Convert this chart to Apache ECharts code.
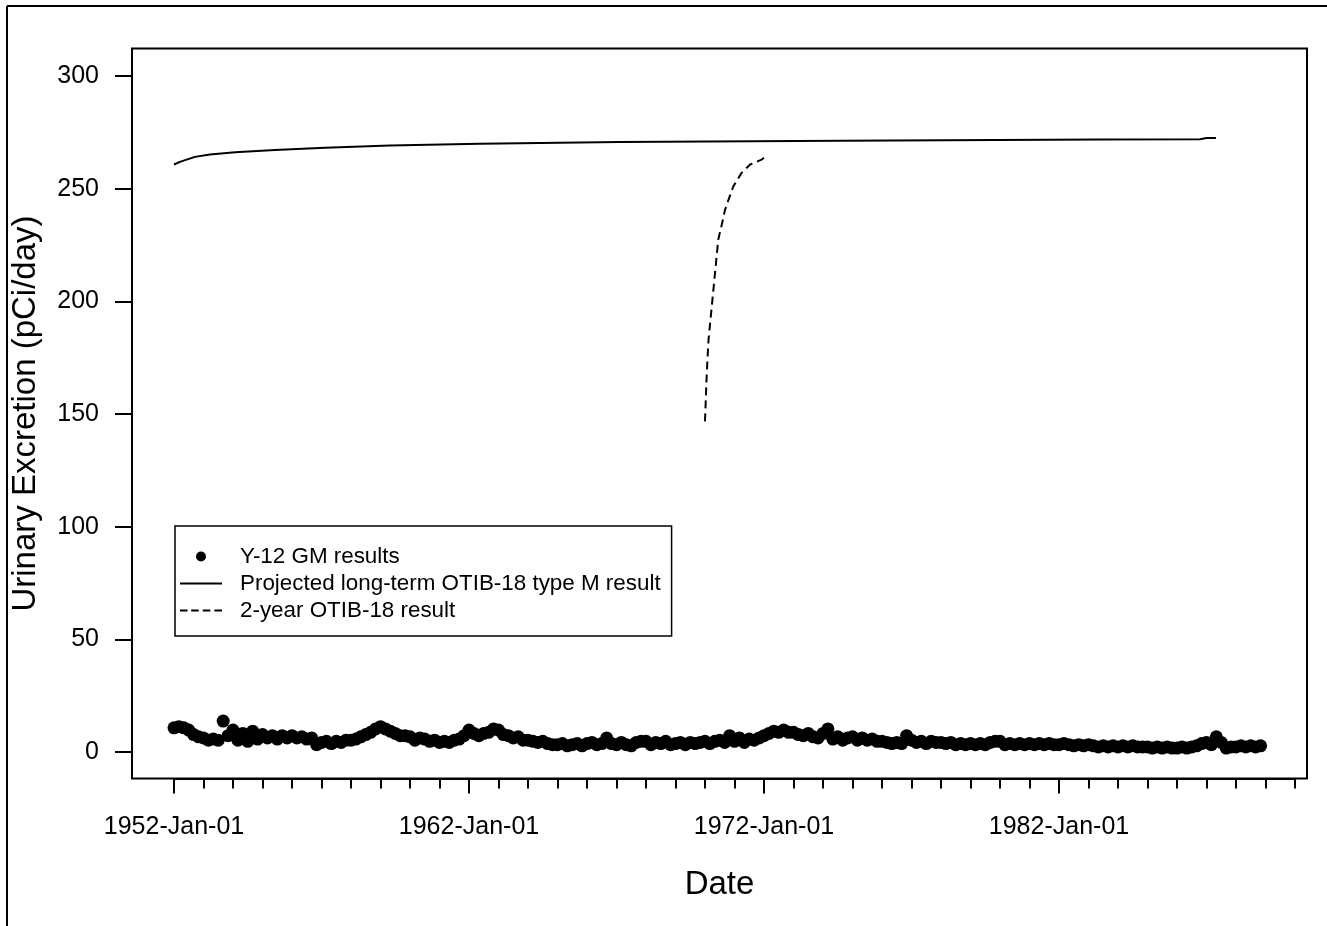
<!DOCTYPE html>
<html><head><meta charset="utf-8">
<script src="https://cdn.jsdelivr.net/npm/echarts@6/dist/echarts.min.js"></script>
<style>html,body{margin:0;padding:0;background:#fff;}#c{width:1327px;height:926px;}</style>
</head><body><div id="c"></div>
<script>
// ---- Data ----
// Y-12 GM results: six readings per year (every two months, starting Jan of each year)
const gmYears = [1952,1953,1954,1955,1956,1957,1958,1959,1960,1961,1962,1963,1964,1965,1966,1967,1968,1969,1970,1971,1972,1973,1974,1975,1976,1977,1978,1979,1980,1981,1982,1983,1984,1985,1986,1987,1988];
const gmValuesByYear = [
  [10.5, 11, 10.5, 9.5, 7.5, 6.5],
  [6, 5, 5.5, 5, 13.5, 7],
  [9.5, 5, 8, 4.5, 9, 5.5],
  [7.5, 6, 7, 5.5, 7, 6],
  [7, 6, 6.5, 5.5, 6, 3],
  [4, 4.5, 3.5, 4.5, 4, 5],
  [5, 5.5, 6.5, 7.5, 8.5, 10],
  [11, 10, 9, 8, 7, 7],
  [6.5, 5, 6, 5.5, 4.5, 5],
  [4, 4.5, 4, 5, 5.5, 7],
  [9.5, 8, 7, 8, 8.5, 10],
  [9.5, 7.5, 7, 6, 6.5, 5],
  [5, 4.5, 4, 4.5, 3.5, 3],
  [3, 3.5, 2.5, 3, 3.5, 2.5],
  [3.5, 4, 3, 3.5, 6, 3.5],
  [3, 4, 3, 2.5, 4, 4.5],
  [4.5, 3, 4, 3.5, 4.5, 3],
  [3.5, 4, 3, 4, 3.5, 4],
  [4.5, 3.5, 4.5, 5, 4, 7],
  [4.5, 6, 4, 5.5, 5, 6],
  [7, 8, 9, 8.5, 9.5, 8.5],
  [8.5, 7.5, 7, 8, 6.5, 6],
  [8, 10, 5.5, 6.5, 5, 6],
  [6.5, 5, 6, 5, 5.5, 4.5],
  [4.5, 4, 3.5, 4, 3.5, 7],
  [5, 4, 4.5, 3.5, 4.5, 4],
  [4, 3.5, 4, 3, 3.5, 3],
  [3.5, 3, 3.5, 3, 4, 4.5],
  [4.5, 3, 3.5, 3, 3.5, 3],
  [3.5, 3, 3.5, 3, 3.5, 3],
  [3, 3.5, 3, 2.5, 3, 2.5],
  [3, 2.5, 2, 2.5, 2, 2.5],
  [2, 2.5, 2, 2.5, 2, 2],
  [2, 1.5, 2, 1.5, 2, 1.5],
  [1.5, 2, 1.5, 2, 2.5, 3.5],
  [4, 3, 6.5, 4, 1.5, 2],
  [2, 2.5, 2, 2.5, 2, 2.5]
];
const readingOffsets = [0, 1/6, 2/6, 3/6, 4/6, 5/6]; // fraction of year for each reading

// Projected long-term OTIB-18 type M result
const projYears  = [1952.0, 1952.2, 1952.43, 1952.71, 1953.22, 1954.07, 1955.42, 1957.12, 1959.32, 1962.37, 1967.1, 1974.6, 1983.4, 1986.78, 1987.0, 1987.32];
const projValues = [260.5, 261.7, 262.7, 263.9, 265.0, 266.0, 266.9, 268.0, 269.0, 269.7, 270.5, 271.1, 271.6, 271.7, 272.3, 272.3];

// 2-year OTIB-18 result
const twoYrYears  = [1970.0, 1970.06, 1970.12, 1970.23, 1970.34, 1970.45, 1970.57, 1970.68, 1970.82, 1970.96, 1971.24, 1971.53, 1971.92, 1972.0];
const twoYrValues = [146.5, 168.0, 182.8, 197.6, 212.4, 227.2, 233.9, 240.5, 245.7, 250.8, 256.8, 260.5, 262.7, 263.5];

// Axis ticks
const xMajorTickYears = [1952, 1962, 1972, 1982];
const xMajorTickLabels = ['1952-Jan-01', '1962-Jan-01', '1972-Jan-01', '1982-Jan-01'];
const yTickValues = [0, 50, 100, 150, 200, 250, 300];

const seriesNames = ['Y-12 GM results', 'Projected long-term OTIB-18 type M result', '2-year OTIB-18 result'];

// ---- Build ----
const gmData = [];
gmYears.forEach((y, i) => gmValuesByYear[i].forEach((v, k) => gmData.push([y + readingOffsets[k], v])));
const projData = projYears.map((y, i) => [y, projValues[i]]);
const twoYrData = twoYrYears.map((y, i) => [y, twoYrValues[i]]);

const FONT = '"Liberation Sans", Arial, sans-serif';
const X_MIN = 1950.576, X_MAX = 1990.407, Y_MIN = -12, Y_MAX = 312;
const hidden = {axisLine:{show:false}, axisTick:{show:false}, axisLabel:{show:false}, splitLine:{show:false}};

const SOLID_ICON = 'path://M0,0H42V2H0Z';
const DASH_ICON = 'path://M0,0H7.5V2H0Z M11,0H18.5V2H11Z M22.5,0H30V2H22.5Z M34,0H41.5V2H34Z';

const chart = echarts.init(document.getElementById('c'));
chart.setOption({
  animation: false,
  backgroundColor: '#fff',
  textStyle: {fontFamily: FONT},
  graphic: [
    {type:'line', shape:{x1:7, y1:6, x2:7, y2:926}, style:{stroke:'#000', lineWidth:2}},
    {type:'line', shape:{x1:7, y1:6, x2:1327, y2:6}, style:{stroke:'#000', lineWidth:2}}
  ],
  grid: [
    {left:132, top:48.5, width:1175, height:730, show:true, borderColor:'#000', borderWidth:2, backgroundColor:'transparent'},
    {left:174, top:48.5, width:1121, height:730},
    {left:174, top:48.5, width:885, height:730},
    {left:132, top:76, width:1175, height:676}
  ],
  xAxis: [
    Object.assign({gridIndex:0, type:'value', min:X_MIN, max:X_MAX,
      name:'Date', nameLocation:'middle', nameGap:90,
      nameTextStyle:{fontSize:33, color:'#000', fontFamily:FONT}}, hidden),
    {gridIndex:1, type:'value', min:1952, max:1990, interval:1,
      axisLine:{show:true, lineStyle:{color:'#000', width:2}},
      axisTick:{show:true, length:10, lineStyle:{color:'#000', width:2}},
      axisLabel:{show:false}, splitLine:{show:false}},
    {gridIndex:2, type:'value', min:1952, max:1982, interval:10,
      axisLine:{show:false},
      axisTick:{show:true, length:15, lineStyle:{color:'#000', width:2}},
      axisLabel:{show:true, margin:36, fontSize:25, color:'#000', fontFamily:FONT,
        formatter: v => { const i = xMajorTickYears.indexOf(v); return i >= 0 ? xMajorTickLabels[i] : ''; }},
      splitLine:{show:false}},
    Object.assign({gridIndex:3, type:'value', min:0, max:1}, hidden)
  ],
  yAxis: [
    Object.assign({gridIndex:0, type:'value', min:Y_MIN, max:Y_MAX,
      name:'Urinary Excretion (pCi/day)', nameLocation:'middle', nameGap:90,
      nameTextStyle:{fontSize:33, color:'#000', fontFamily:FONT}}, hidden),
    Object.assign({gridIndex:1, type:'value', min:0, max:1}, hidden),
    Object.assign({gridIndex:2, type:'value', min:0, max:1}, hidden),
    {gridIndex:3, type:'value', min:0, max:300, interval:50,
      axisLine:{show:true, lineStyle:{color:'#000', width:2}},
      axisTick:{show:true, length:17, lineStyle:{color:'#000', width:2}},
      axisLabel:{show:true, margin:33, fontSize:25, color:'#000', fontFamily:FONT,
        formatter: v => yTickValues.indexOf(v) >= 0 ? String(v) : ''},
      splitLine:{show:false}}
  ],
  legend: {
    orient:'vertical', left:175, top:526,
    padding:[17, 11, 12, 5], itemGap:0, itemWidth:42, itemHeight:10,
    symbolKeepAspect:true,
    borderColor:'#000', borderWidth:1.5, backgroundColor:'#fff',
    selectedMode:false,
    textStyle:{fontSize:22.4, color:'#000', fontFamily:FONT, lineHeight:27, padding:[0,0,0,13]},
    data:[
      {name:seriesNames[0], icon:'circle'},
      {name:seriesNames[1], icon:SOLID_ICON},
      {name:seriesNames[2], icon:DASH_ICON}
    ]
  },
  series: [
    {name:seriesNames[0], type:'scatter', xAxisIndex:0, yAxisIndex:0, data:gmData,
      symbol:'circle', symbolSize:13, itemStyle:{color:'#000', opacity:1}, z:3},
    {name:seriesNames[1], type:'line', xAxisIndex:0, yAxisIndex:0, data:projData,
      symbol:'none', smooth:false, lineStyle:{color:'#000', width:2}, itemStyle:{color:'#000'}},
    {name:seriesNames[2], type:'line', xAxisIndex:0, yAxisIndex:0, data:twoYrData,
      symbol:'none', smooth:false, lineStyle:{color:'#000', width:2, type:[8,5]}, itemStyle:{color:'#000'}}
  ]
});
</script></body></html>
